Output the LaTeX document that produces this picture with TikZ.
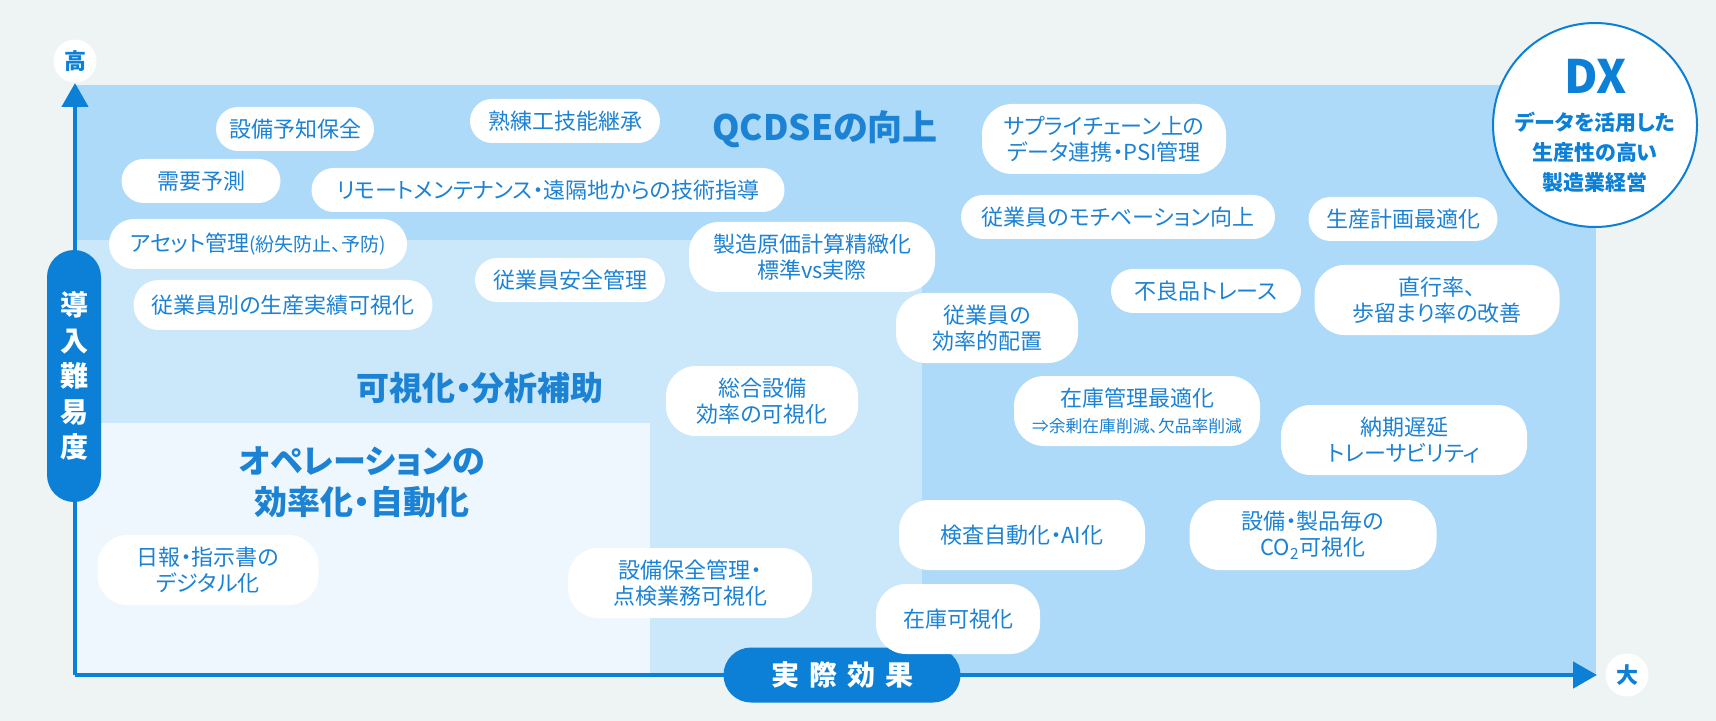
\documentclass[tikz,border=0pt]{standalone}
\usepackage{fontspec}
\setmainfont{Noto Sans CJK JP}[RawFeature={+palt}]
\usetikzlibrary{arrows.meta}

\definecolor{bgc}{HTML}{EEF4F4}
\definecolor{zoneA}{HTML}{ADDAF8}
\definecolor{zoneB}{HTML}{CBE7FA}
\definecolor{zoneC}{HTML}{EFF7FE}
\definecolor{dxblue}{HTML}{0B80D6}
\definecolor{txtblue}{HTML}{1C82D4}

\tikzset{
  pill/.style={fill=white, rounded corners=11pt, minimum height=22pt, inner sep=0pt,
    align=center, text=txtblue, font=\fontsize{11}{13}\selectfont},
  pilltwo/.style={pill, rounded corners=15pt, minimum height=35pt},
  zonetitle/.style={text=txtblue, align=center, font=\bfseries\fontsize{16.5}{20.5}\selectfont},
  axislabel/.style={fill=dxblue, text=white, inner sep=0pt, align=center,
    font=\bfseries\fontsize{14}{17.75}\selectfont},
  endmark/.style={circle, fill=white, text=dxblue, inner sep=0pt, minimum size=21.5pt,
    font=\bfseries\fontsize{11}{13}\selectfont},
  axis/.style={dxblue, line width=2.25pt, -{Triangle[length=12pt,width=13pt]}},
}

\begin{document}
\begin{tikzpicture}[x=0.5pt, y=-0.5pt]
\useasboundingbox (0,0) rectangle (1716,721);
\fill[bgc] (0,0) rectangle (1716,721);

% zones
\fill[zoneA] (75,85) rectangle (1596,675);
\fill[zoneB] (75,240) rectangle (922,675);
\fill[zoneC] (75,423) rectangle (650,675);

% axes
\coordinate (o) at (75,675);
\coordinate (ytop) at (75,83);
\coordinate (xend) at (1597,675);
\draw[axis] (o) -- (ytop);
\draw[axis] (o) -- (xend);
\node[endmark] (hi) at (75,61) {高};
\node[endmark] (big) at (1627,675) {大};
\node[axislabel, minimum width=27pt, minimum height=126pt, rounded corners=13.5pt] (ylab) at (74,376) {導\\入\\難\\易\\度};
\node[axislabel, minimum width=118.5pt, minimum height=27.5pt, rounded corners=13.75pt] (xlab) at (842,675)
  {実\hspace{5pt}際\hspace{5pt}効\hspace{5pt}果};

% zone titles
\node[zonetitle, font=\bfseries\fontsize{17.5}{20}\selectfont] (qcdse) at (825,129) {QCDSEの向上};
\node[zonetitle] (kashika) at (480,388) {可視化・分析補助};
\node[zonetitle] (opera) at (362,482) {オペレーションの\\効率化・自動化};

% DX
\node[circle, draw=dxblue, line width=1pt, fill=white, minimum size=102pt] (dx) at (1595,125) {};
\node[text=dxblue, font=\bfseries\fontsize{23}{26}\selectfont] (dxt) at (1596,76) {DX};
\node[text=dxblue, align=center, font=\bfseries\fontsize{10.5}{15}\selectfont] (dxsub) at (1595,152)
  {データを活用した\\生産性の高い\\製造業経営};

% upper band
\node[pill, minimum width=79pt] (yochi) at (295,129) {設備予知保全};
\node[pill, minimum width=95pt] (jukuren) at (565,121) {熟練工技能継承};
\node[pill, minimum width=79.5pt] (juyou) at (201,181) {需要予測};
\node[pill, minimum width=236.5pt] (remote) at (548,190) {リモートメンテナンス・遠隔地からの技術指導};
\node[pilltwo, minimum width=122pt] (supply) at (1104,139) {サプライチェーン上の\\データ連携・PSI管理};
\node[pill, minimum width=157pt] (motive) at (1118,217) {従業員のモチベーション向上};
\node[pill, minimum width=94.5pt] (keikaku) at (1403,219) {生産計画最適化};

% middle
\node[pill, minimum width=149pt, minimum height=25pt, rounded corners=12.5pt] (asset) at (258,244)
  {アセット管理{\fontsize{9.5}{11}\selectfont (紛失防止、予防)}};
\node[pill, minimum width=149.5pt, minimum height=25pt, rounded corners=12.5pt] (jisseki) at (283,305) {従業員別の生産実績可視化};
\node[pill, minimum width=95pt] (anzen) at (570,280) {従業員安全管理};
\node[pilltwo, minimum width=123pt] (genka) at (812,257) {製造原価計算精緻化\\標準vs実際};
\node[pill, minimum width=95pt] (furyo) at (1206,291) {不良品トレース};
\node[pilltwo, minimum width=122.5pt] (budomari) at (1437,300) {直行率、\\歩留まり率の改善};
\node[pilltwo, minimum width=91pt] (haichi) at (987,328) {従業員の\\効率的配置};
\node[pilltwo, minimum width=96pt] (sougou) at (762,401) {総合設備\\効率の可視化};
\node[pilltwo, minimum width=123pt] (zaiko) at (1137,411)
  {在庫管理最適化\\{\fontsize{8.4}{10}\selectfont ⇒余剰在庫削減、欠品率削減}};
\node[pilltwo, minimum width=123pt] (nouki) at (1404,440) {納期遅延\\トレーサビリティ};

% lower band
\node[pilltwo, minimum width=123pt] (kensa) at (1022,535) {検査自動化・AI化};
\node[pilltwo, minimum width=123.5pt] (co2) at (1313,535) {設備・製品毎の\\CO\textsubscript{2}可視化};
\node[pilltwo, minimum width=82pt] (zaikovis) at (958,619) {在庫可視化};
\node[pilltwo, minimum width=110.5pt] (nippou) at (208,570) {日報・指示書の\\デジタル化};
\node[pilltwo, minimum width=122pt] (hozen) at (690,583) {設備保全管理・\\点検業務可視化};
\end{tikzpicture}
\end{document}
